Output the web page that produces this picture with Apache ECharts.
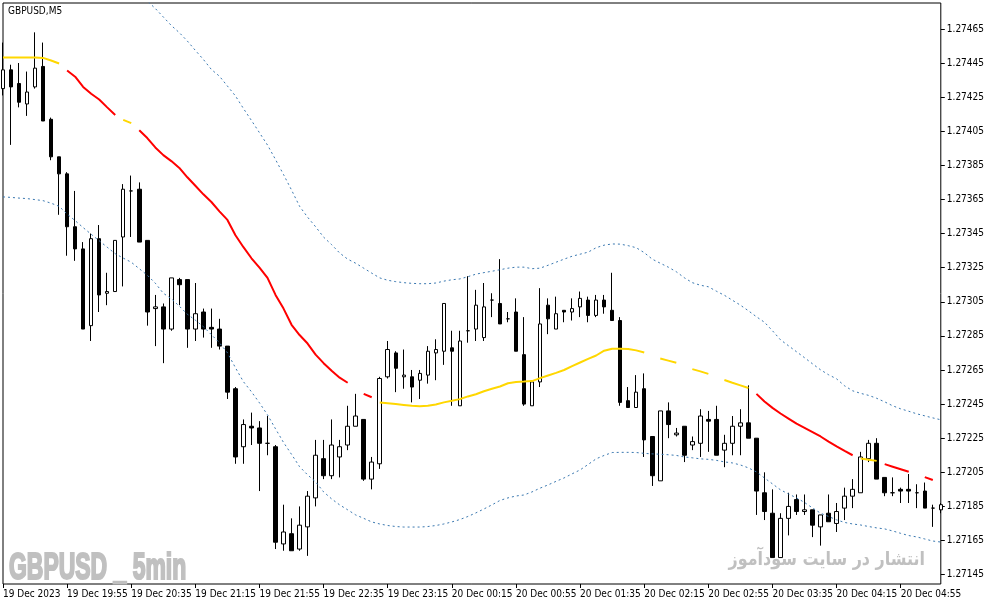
<!DOCTYPE html>
<html>
<head>
<meta charset="utf-8">
<script src="https://cdn.jsdelivr.net/npm/echarts@6/dist/echarts.min.js"></script>
<style>
html,body{margin:0;padding:0;background:#fff;}
#chart{width:987px;height:605px;}
</style>
</head>
<body>
<div id="chart"></div>
<script>
// ---- tick labels ----
var xTickLabels = ['19 Dec 2023','19 Dec 19:55','19 Dec 20:35','19 Dec 21:15','19 Dec 21:55','19 Dec 22:35','19 Dec 23:15','20 Dec 00:15','20 Dec 00:55','20 Dec 01:35','20 Dec 02:15','20 Dec 02:55','20 Dec 03:35','20 Dec 04:15','20 Dec 04:55'];
var yTicks = [1.27145,1.27165,1.27185,1.27205,1.27225,1.27245,1.27265,1.27285,1.27305,1.27325,1.27345,1.27365,1.27385,1.27405,1.27425,1.27445,1.27465];

// ---- OHLC (M5 bars) ----
var open = [1.27430,1.27441,1.27433,1.27421,1.27431,1.27443,1.27412,1.27390,1.27380,1.27349,
1.27336,1.27291,1.27342,1.27310,1.27311,1.27343,1.27370,1.27371,1.27341,1.27301,
1.27302,1.27289,1.27318,1.27318,1.27289,1.27299,1.27290,1.27289,1.27279,1.27254,
1.27220,1.27232,1.27231,1.27222,1.27220,1.27163,1.27169,1.27160,1.27173,1.27190,
1.27213,1.27203,1.27214,1.27221,1.27232,1.27236,1.27201,1.27210,1.27261,1.27275,
1.27261,1.27261,1.27259,1.27262,1.27275,1.27276,1.27278,1.27244,1.27288,1.27289,
1.27284,1.27306,1.27304,1.27295,1.27299,1.27274,1.27244,1.27258,1.27303,1.27289,
1.27300,1.27299,1.27302,1.27306,1.27297,1.27306,1.27300,1.27294,1.27247,1.27243,
1.27254,1.27226,1.27200,1.27241,1.27227,1.27232,1.27221,1.27222,1.27236,1.27236,
1.27218,1.27222,1.27232,1.27234,1.27225,1.27193,1.27181,1.27155,1.27178,1.27189,
1.27182,1.27183,1.27173,1.27181,1.27175,1.27184,1.27191,1.27193,1.27213,1.27222,
1.27202,1.27193,1.27195,1.27195,1.27193,1.27194,1.27184,1.27183];
var high = [1.27457,1.27444,1.27445,1.27440,1.27463,1.27457,1.27413,1.27390,1.27381,1.27370,
1.27340,1.27345,1.27350,1.27322,1.27341,1.27374,1.27379,1.27375,1.27341,1.27309,
1.27304,1.27319,1.27319,1.27318,1.27316,1.27301,1.27301,1.27295,1.27279,1.27255,
1.27236,1.27240,1.27235,1.27238,1.27221,1.27186,1.27178,1.27185,1.27194,1.27224,
1.27224,1.27236,1.27224,1.27244,1.27251,1.27236,1.27214,1.27261,1.27282,1.27276,
1.27277,1.27265,1.27265,1.27279,1.27283,1.27304,1.27288,1.27288,1.27320,1.27312,
1.27316,1.27310,1.27330,1.27299,1.27307,1.27296,1.27258,1.27313,1.27307,1.27308,
1.27300,1.27307,1.27311,1.27308,1.27309,1.27309,1.27322,1.27296,1.27255,1.27262,
1.27263,1.27226,1.27241,1.27246,1.27231,1.27232,1.27226,1.27242,1.27241,1.27244,
1.27227,1.27238,1.27242,1.27256,1.27225,1.27205,1.27195,1.27181,1.27193,1.27192,
1.27192,1.27183,1.27180,1.27192,1.27187,1.27196,1.27201,1.27217,1.27224,1.27225,
1.27202,1.27202,1.27196,1.27204,1.27198,1.27199,1.27186,1.27187];
var low = [1.27426,1.27397,1.27419,1.27414,1.27430,1.27411,1.27388,1.27356,1.27332,1.27329,
1.27289,1.27282,1.27299,1.27303,1.27311,1.27314,1.27343,1.27340,1.27291,1.27279,
1.27269,1.27288,1.27303,1.27278,1.27282,1.27284,1.27278,1.27277,1.27248,1.27210,
1.27210,1.27221,1.27194,1.27215,1.27160,1.27159,1.27159,1.27159,1.27156,1.27185,
1.27201,1.27201,1.27202,1.27218,1.27232,1.27200,1.27195,1.27207,1.27260,1.27252,
1.27254,1.27246,1.27248,1.27257,1.27259,1.27268,1.27244,1.27244,1.27281,1.27282,
1.27282,1.27296,1.27292,1.27293,1.27276,1.27244,1.27244,1.27255,1.27286,1.27289,
1.27293,1.27294,1.27296,1.27293,1.27296,1.27298,1.27294,1.27244,1.27243,1.27243,
1.27214,1.27197,1.27200,1.27225,1.27226,1.27211,1.27218,1.27214,1.27217,1.27215,
1.27208,1.27215,1.27215,1.27225,1.27180,1.27177,1.27155,1.27155,1.27168,1.27180,
1.27180,1.27167,1.27162,1.27176,1.27170,1.27177,1.27184,1.27193,1.27211,1.27201,
1.27191,1.27191,1.27187,1.27187,1.27184,1.27184,1.27173,1.27181];
var close = [1.27441,1.27431,1.27422,1.27428,1.27442,1.27411,1.27390,1.27380,1.27349,1.27336,
1.27289,1.27342,1.27309,1.27311,1.27341,1.27371,1.27370,1.27340,1.27299,1.27302,
1.27289,1.27319,1.27315,1.27289,1.27298,1.27289,1.27289,1.27279,1.27252,1.27214,
1.27233,1.27231,1.27222,1.27222,1.27164,1.27170,1.27159,1.27174,1.27191,1.27215,
1.27203,1.27221,1.27220,1.27232,1.27238,1.27201,1.27211,1.27260,1.27277,1.27266,
1.27262,1.27255,1.27263,1.27276,1.27277,1.27304,1.27276,1.27282,1.27288,1.27303,
1.27302,1.27306,1.27292,1.27295,1.27276,1.27245,1.27258,1.27292,1.27295,1.27298,
1.27299,1.27301,1.27307,1.27297,1.27306,1.27302,1.27294,1.27246,1.27243,1.27252,
1.27224,1.27203,1.27241,1.27233,1.27228,1.27215,1.27223,1.27238,1.27235,1.27215,
1.27222,1.27232,1.27234,1.27225,1.27194,1.27182,1.27155,1.27178,1.27185,1.27182,
1.27183,1.27174,1.27180,1.27176,1.27182,1.27191,1.27195,1.27214,1.27222,1.27201,
1.27193,1.27193,1.27194,1.27194,1.27193,1.27184,1.27184,1.27186];

// ---- moving average and its colour state (Y = yellow, R = red) ----
var ma = [1.274483,1.274483,1.274483,1.274483,1.274483,1.274480,1.274465,1.274447,1.274406,1.274370,
1.274310,1.274270,1.274236,1.274190,1.274145,1.274117,1.274098,1.274056,1.274010,1.273955,
1.273910,1.273875,1.273835,1.273780,1.273730,1.273680,1.273635,1.273580,1.273530,1.273440,
1.273370,1.273305,1.273250,1.273190,1.273090,1.273010,1.272915,1.272855,1.272805,1.272740,
1.272690,1.272645,1.272605,1.272575,1.272535,1.272510,1.272490,1.272460,1.272455,1.272450,
1.272445,1.272440,1.272438,1.272440,1.272448,1.272460,1.272469,1.272479,1.272495,1.272508,
1.272525,1.272540,1.272553,1.272572,1.272580,1.272582,1.272585,1.272602,1.272618,1.272633,
1.272650,1.272673,1.272694,1.272715,1.272735,1.272763,1.272775,1.272774,1.272773,1.272765,
1.272753,1.272735,1.272717,1.272705,1.272692,1.272675,1.272655,1.272642,1.272627,1.272610,
1.272591,1.272575,1.272560,1.272544,1.272510,1.272465,1.272428,1.272395,1.272365,1.272335,
1.272310,1.272285,1.272260,1.272230,1.272202,1.272175,1.272150,1.272131,1.272124,1.272117,
1.272098,1.272083,1.272068,1.272053,1.272038,1.272022,1.272005,1.271995];
var maState = 'YYYYYYYY' + 'RRRRRRR' + 'YY' + 'RRRRRRRRRRRRRRRRRRRRRRRRRRR' + 'Y' + 'RR' +
  'YYYYYYYYYYYYYYYYYYYYYYYYYYYYYYYYYY' + 'R' + 'YYY' + 'R' + 'YYY' + 'R' + 'YYYY' +
  'RRRRRRRRRRRRR' + 'YYY' + 'RRRR' + 'Y' + 'RR' + 'Y';

// ---- envelope bands ----
var upper = [1.275301,1.275304,1.275308,1.275311,1.275317,1.275317,1.275302,1.275284,1.275248,1.275214,
1.275135,1.275094,1.275064,1.275010,1.274958,1.274928,1.274914,1.274868,1.274814,1.274770,
1.274720,1.274670,1.274628,1.274579,1.274524,1.274471,1.274412,1.274373,1.274315,1.274257,
1.274183,1.274113,1.274041,1.273969,1.273884,1.273796,1.273705,1.273610,1.273546,1.273490,
1.273429,1.273385,1.273336,1.273300,1.273276,1.273247,1.273218,1.273190,1.273176,1.273168,
1.273162,1.273158,1.273156,1.273156,1.273160,1.273171,1.273179,1.273184,1.273197,1.273212,
1.273221,1.273229,1.273238,1.273247,1.273253,1.273253,1.273244,1.273247,1.273264,1.273282,
1.273300,1.273317,1.273329,1.273341,1.273367,1.273382,1.273389,1.273388,1.273379,1.273367,
1.273338,1.273300,1.273276,1.273253,1.273226,1.273191,1.273162,1.273147,1.273138,1.273112,
1.273088,1.273059,1.273030,1.272997,1.272962,1.272930,1.272880,1.272827,1.272792,1.272757,
1.272722,1.272686,1.272651,1.272622,1.272598,1.272557,1.272528,1.272513,1.272501,1.272484,
1.272463,1.272440,1.272422,1.272408,1.272393,1.272381,1.272369,1.272358];
var lower = [1.273665,1.273662,1.273658,1.273655,1.273649,1.273643,1.273628,1.273610,1.273564,1.273526,
1.273485,1.273446,1.273408,1.273370,1.273332,1.273306,1.273282,1.273244,1.273206,1.273159,
1.273100,1.273068,1.273024,1.272977,1.272942,1.272904,1.272857,1.272810,1.272751,1.272663,
1.272581,1.272522,1.272457,1.272387,1.272305,1.272225,1.272155,1.272083,1.272035,1.271994,
1.271935,1.271894,1.271859,1.271830,1.271800,1.271780,1.271759,1.271747,1.271738,1.271732,
1.271729,1.271729,1.271729,1.271732,1.271738,1.271747,1.271759,1.271773,1.271791,1.271812,
1.271835,1.271859,1.271885,1.271900,1.271911,1.271917,1.271935,1.271957,1.271976,1.271997,
1.272017,1.272041,1.272064,1.272096,1.272129,1.272149,1.272166,1.272167,1.272167,1.272166,
1.272161,1.272158,1.272156,1.272153,1.272149,1.272140,1.272135,1.272129,1.272126,1.272120,
1.272111,1.272105,1.272093,1.272076,1.272052,1.272017,1.271982,1.271947,1.271923,1.271900,
1.271873,1.271841,1.271810,1.271791,1.271771,1.271756,1.271747,1.271741,1.271732,1.271724,
1.271718,1.271706,1.271692,1.271679,1.271671,1.271659,1.271647,1.271641];

// ---- bar times (M5, with the midnight gap) ----
var categories = [];
(function(){
  var d = 19, m = 19*60 + 15;
  for (var i = 0; i < open.length; i++) {
    var hh = Math.floor(m/60) % 24, mm = m % 60;
    categories.push(d + ' Dec ' + (hh<10?'0':'') + hh + ':' + (mm<10?'0':'') + mm);
    m += 5;
    if (m === 23*60 + 55) { m = 24*60 + 15; }
    if (m >= 24*60) { d = 20; }
  }
})();

var candles = open.map(function(o, i){ return [o, close[i], low[i], high[i]]; });
var maYellow = ma.map(function(v, i){ return maState[i] === 'Y' ? v : null; });
var maRed = ma.map(function(v, i){ return maState[i] === 'R' ? v : null; });

var FONT = '"DejaVu Sans Condensed", "DejaVu Sans", sans-serif';

var chart = echarts.init(document.getElementById('chart'), null, {renderer: 'canvas'});
chart.setOption({
  animation: false,
  backgroundColor: '#ffffff',
  grid: {left: 3, top: 3, right: 46, bottom: 21, show: true, borderColor: '#000', borderWidth: 1, backgroundColor: '#fff'},
  xAxis: {
    type: 'category',
    data: categories,
    boundaryGap: false,
    axisLine: {show: false},
    axisTick: {show: true, interval: 7, length: 4, lineStyle: {color: '#000'}},
    axisLabel: {
      interval: 7, align: 'left', margin: 5, color: '#000', fontSize: 10, fontFamily: FONT,
      formatter: function(v, i){ return xTickLabels[Math.round(i/8)] || ''; }
    },
    splitLine: {show: false}
  },
  yAxis: {
    type: 'value',
    position: 'right',
    min: 1.271395,
    max: 1.274802,
    axisLine: {show: false},
    axisTick: {show: true, length: 4, lineStyle: {color: '#000'}, customValues: yTicks},
    axisLabel: {
      color: '#000', fontSize: 10, fontFamily: FONT, margin: 6,
      customValues: yTicks,
      formatter: function(v){ return v.toFixed(5); }
    },
    splitLine: {show: false}
  },
  graphic: [
    {type: 'text', left: 8, top: 6, z: 100, style: {text: 'GBPUSD,M5', fill: '#000', font: '10px ' + FONT}},
    {type: 'text', x: 9, y: 550, z: 1, scaleX: 0.62, style: {text: 'GBPUSD _ 5min', fill: '#c0c0c0', stroke: '#c0c0c0', lineWidth: 2.2, font: 'bold 37px "Liberation Sans", sans-serif'}},
    {type: 'text', x: 925, y: 551, z: 1, scaleX: 0.84, style: {text: 'انتشار در سایت سودآموز', fill: '#c0c0c0', font: 'bold 19px "DejaVu Sans", sans-serif', align: 'right'}}
  ],
  series: [
    {
      type: 'candlestick',
      data: candles,
      barWidth: 4,
      clip: false,
      z: 3,
      itemStyle: {color: '#ffffff', color0: '#000000', borderColor: '#000000', borderColor0: '#000000', borderColorDoji: '#000000', borderWidth: 1}
    },
    {type: 'line', data: upper, symbol: 'none', z: 4, lineStyle: {color: '#3a78b0', width: 1, type: [2, 3]}},
    {type: 'line', data: lower, symbol: 'none', z: 4, lineStyle: {color: '#3a78b0', width: 1, type: [2, 3]}},
    {type: 'line', data: maYellow, symbol: 'none', connectNulls: false, z: 5, lineStyle: {color: '#FFD700', width: 2}},
    {type: 'line', data: maRed, symbol: 'none', connectNulls: false, z: 5, lineStyle: {color: '#FF0000', width: 2}}
  ]
});
</script>
</body>
</html>
